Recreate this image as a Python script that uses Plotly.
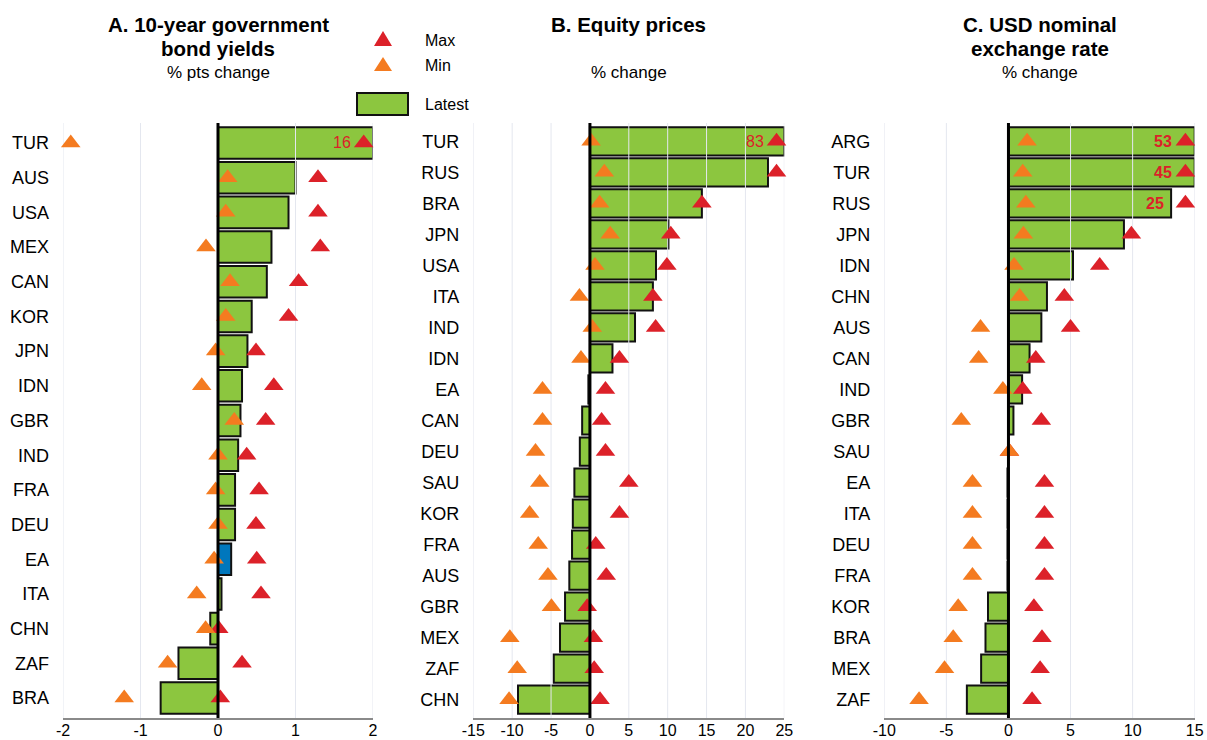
import plotly.graph_objects as go

W, H = 1207, 740

# ---------------- Data ----------------
# Panel A: 10-year government bond yields (% pts change)
a_cats = ["TUR", "AUS", "USA", "MEX", "CAN", "KOR", "JPN", "IDN", "GBR",
          "IND", "FRA", "DEU", "EA", "ITA", "CHN", "ZAF", "BRA"]
a_latest = [2.0, 1.00, 0.91, 0.69, 0.63, 0.435, 0.38, 0.31, 0.29,
            0.26, 0.22, 0.22, 0.17, 0.045, -0.10, -0.51, -0.74]
a_max = [1.88, 1.29, 1.29, 1.32, 1.04, 0.91, 0.49, 0.72, 0.615,
         0.37, 0.53, 0.49, 0.50, 0.555, 0.01, 0.31, 0.03]
a_min = [-1.90, 0.125, 0.10, -0.155, 0.155, 0.10, -0.03, -0.21, 0.21,
         0.0, -0.03, 0.0, -0.05, -0.275, -0.16, -0.65, -1.21]
a_labels = {"TUR": "16"}
a_ticks = [-2, -1, 0, 1, 2]

# Panel B: Equity prices (% change)
b_cats = ["TUR", "RUS", "BRA", "JPN", "USA", "ITA", "IND", "IDN", "EA", "CAN",
          "DEU", "SAU", "KOR", "FRA", "AUS", "GBR", "MEX", "ZAF", "CHN"]
b_latest = [25, 22.9, 14.4, 10.1, 8.5, 8.1, 5.8, 2.9, -0.2, -1.0,
            -1.3, -2.0, -2.2, -2.3, -2.65, -3.2, -3.85, -4.65, -9.25]
b_max = [24.0, 24.0, 14.4, 10.4, 9.9, 8.1, 8.45, 3.8, 2.0, 1.5,
         2.0, 5.0, 3.8, 0.75, 2.1, -0.35, 0.45, 0.55, 1.3]
b_min = [0.15, 1.85, 1.25, 2.6, 0.65, -1.35, 0.3, -1.15, -6.1, -6.1,
         -7.0, -6.45, -7.75, -6.65, -5.4, -4.95, -10.3, -9.35, -10.4]
b_labels = {"TUR": "83"}
b_ticks = [-15, -10, -5, 0, 5, 10, 15, 20, 25]

# Panel C: USD nominal exchange rate (% change)
c_cats = ["ARG", "TUR", "RUS", "JPN", "IDN", "CHN", "AUS", "CAN", "IND", "GBR",
          "SAU", "EA", "ITA", "DEU", "FRA", "KOR", "BRA", "MEX", "ZAF"]
c_latest = [15, 15, 13.1, 9.3, 5.2, 3.1, 2.65, 1.7, 1.1, 0.4,
            0.0, -0.08, -0.08, -0.08, -0.08, -1.65, -1.85, -2.2, -3.35]
c_max = [14.25, 14.25, 14.25, 9.9, 7.35, 4.5, 5.0, 2.2, 1.15, 2.65,
         0.08, 2.9, 2.9, 2.9, 2.9, 2.05, 2.7, 2.55, 1.9]
c_min = [1.5, 1.15, 1.4, 1.2, 0.45, 0.9, -2.25, -2.4, -0.45, -3.8,
         0.08, -2.9, -2.9, -2.9, -2.9, -4.05, -4.45, -5.15, -7.2]
c_labels = {"ARG": "53", "TUR": "45", "RUS": "25"}
c_ticks = [-10, -5, 0, 5, 10, 15]

titles = [("A. 10-year government", "bond yields", "% pts change"),
          ("B. Equity prices", "", "% change"),
          ("C. USD nominal", "exchange rate", "% change")]

# ---------------- Styles ----------------
GREEN = "#8cc63f"
BLUE = "#0077bd"
RED = "#dc2129"
ORANGE = "#f47b20"
GRID = "#e4e7ef"
FONT = "Liberation Sans, Arial, sans-serif"


def px(x):
    return x / W


def py(y):
    return 1 - y / H


panels = [
    dict(cats=a_cats, latest=a_latest, mx=a_max, mn=a_min, labels=a_labels,
         ticks=a_ticks, xdom=(63, 373), bold=False),
    dict(cats=b_cats, latest=b_latest, mx=b_max, mn=b_min, labels=b_labels,
         ticks=b_ticks, xdom=(473.3, 784.3), bold=False),
    dict(cats=c_cats, latest=c_latest, mx=c_max, mn=c_min, labels=c_labels,
         ticks=c_ticks, xdom=(884.3, 1194.7), bold=True),
]

fig = go.Figure()
annotations = []
shapes = []

PLOT_TOP, PLOT_BOTTOM = 123, 718

for k, p in enumerate(panels):
    xa = "x" if k == 0 else f"x{k+1}"
    ya = "y" if k == 0 else f"y{k+1}"
    n = len(p["cats"])
    idx = list(range(n))
    pad = 0.5765 if n == 17 else 0.59
    yr = [n - 1 + pad, -pad]

    colors = [BLUE if c == "EA" else GREEN for c in p["cats"]]
    fig.add_trace(go.Bar(
        x=p["latest"], y=idx, orientation="h", xaxis=xa, yaxis=ya,
        marker=dict(color=colors, line=dict(color="#111111", width=2)),
        width=0.91, showlegend=False, hoverinfo="skip"))

    # gridlines drawn above the bars
    gx, gy = [], []
    for t in p["ticks"]:
        if t == 0:
            continue
        gx += [t, t, None]
        gy += [yr[0], yr[1], None]
    fig.add_trace(go.Scatter(
        x=gx, y=gy, mode="lines", xaxis=xa, yaxis=ya,
        line=dict(color=GRID, width=1), showlegend=False, hoverinfo="skip"))

    fig.add_trace(go.Scatter(
        x=p["mx"], y=idx, mode="markers", xaxis=xa, yaxis=ya,
        marker=dict(symbol="triangle-up", size=17, color=RED),
        showlegend=False, hoverinfo="skip", cliponaxis=False))
    fig.add_trace(go.Scatter(
        x=p["mn"], y=idx, mode="markers", xaxis=xa, yaxis=ya,
        marker=dict(symbol="triangle-up", size=17, color=ORANGE),
        showlegend=False, hoverinfo="skip", cliponaxis=False))

    for cat, txt in p["labels"].items():
        i = p["cats"].index(cat)
        on_marker = p["mx"][i] <= p["latest"][i]
        xv = p["mx"][i] if on_marker else p["latest"][i]
        annotations.append(dict(
            x=xv, y=i, xref=xa, yref=ya, text=f"<b>{txt}</b>" if p["bold"] else txt,
            showarrow=False, xanchor="right", yanchor="middle",
            xshift=-11 if on_marker else -5, yshift=0,
            font=dict(color=RED, size=16, family=FONT)))

    axis_x = dict(
        domain=[px(p["xdom"][0]), px(p["xdom"][1])],
        range=[p["ticks"][0], p["ticks"][-1]],
        tickvals=p["ticks"], ticktext=[str(t) for t in p["ticks"]],
        showgrid=False, zeroline=False, showline=True,
        linecolor="#8a8a8a", linewidth=2, ticks="",
        ticklabelstandoff=-3,
        tickfont=dict(size=16, color="#000000", family=FONT),
        anchor=ya, fixedrange=True, automargin=False)
    axis_y = dict(
        domain=[py(PLOT_BOTTOM), py(PLOT_TOP)],
        range=yr, tickvals=idx, ticktext=p["cats"],
        showgrid=False, zeroline=False, showline=False, ticks="",
        ticklabelstandoff=13,
        tickfont=dict(size=18, color="#000000", family=FONT),
        anchor=xa, fixedrange=True, automargin=False)
    fig.layout["xaxis" if k == 0 else f"xaxis{k+1}"] = axis_x
    fig.layout["yaxis" if k == 0 else f"yaxis{k+1}"] = axis_y

    # zero line on top
    shapes.append(dict(type="line", xref=xa, yref=f"{ya} domain",
                       x0=0, x1=0, y0=0, y1=1, layer="above",
                       line=dict(color="#000000", width=3)))

    # titles
    cx = px((p["xdom"][0] + p["xdom"][1]) / 2)
    t1, t2, sub = titles[k]
    annotations.append(dict(x=cx, y=py(25), xref="paper", yref="paper",
                            text=f"<b>{t1}</b>", showarrow=False,
                            xanchor="center", yanchor="middle",
                            font=dict(size=20.5, color="#000000", family=FONT)))
    if t2:
        annotations.append(dict(x=cx, y=py(48), xref="paper", yref="paper",
                                text=f"<b>{t2}</b>", showarrow=False,
                                xanchor="center", yanchor="middle",
                                font=dict(size=20.5, color="#000000", family=FONT)))
    annotations.append(dict(x=cx, y=py(72), xref="paper", yref="paper",
                            text=sub, showarrow=False,
                            xanchor="center", yanchor="middle",
                            font=dict(size=17, color="#000000", family=FONT)))

# ---------------- Legend (manual) ----------------
def tri_path(cx, top, bottom, half_w):
    return (f"M {px(cx - half_w)},{py(bottom)} L {px(cx + half_w)},{py(bottom)} "
            f"L {px(cx)},{py(top)} Z")


shapes.append(dict(type="path", xref="paper", yref="paper",
                   path=tri_path(383, 31, 46, 9), fillcolor=RED,
                   line=dict(width=0)))
shapes.append(dict(type="path", xref="paper", yref="paper",
                   path=tri_path(383, 57, 71, 9), fillcolor=ORANGE,
                   line=dict(width=0)))
shapes.append(dict(type="rect", xref="paper", yref="paper",
                   x0=px(357), x1=px(408), y0=py(115), y1=py(93),
                   fillcolor=GREEN, line=dict(color="#111111", width=2)))
for label, yy in [("Max", 41), ("Min", 66), ("Latest", 104)]:
    annotations.append(dict(x=px(423), y=py(yy), xref="paper", yref="paper",
                            text=label, showarrow=False, xanchor="left",
                            yanchor="middle",
                            font=dict(size=16, color="#000000", family=FONT)))

fig.update_layout(
    width=W, height=H,
    margin=dict(l=0, r=0, t=0, b=0, autoexpand=False),
    paper_bgcolor="white", plot_bgcolor="white",
    barmode="overlay",
    showlegend=False,
    annotations=annotations,
    shapes=shapes,
    font=dict(family=FONT, color="#000000"),
)

fig.write_html("out.html",
               config={"displayModeBar": False},
               post_script="document.body.style.margin='0';"
                           "document.body.style.overflow='hidden';")
